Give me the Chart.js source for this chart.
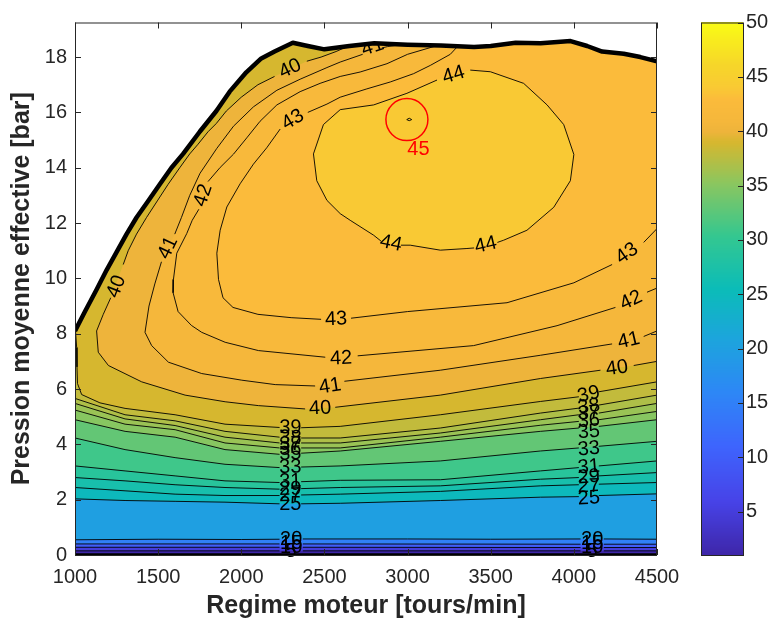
<!DOCTYPE html>
<html>
<head>
<meta charset="utf-8">
<script src="https://cdn.jsdelivr.net/npm/chart.js@4.4.1/dist/chart.umd.min.js"></script>
<style>
  html, body { margin: 0; padding: 0; background: #fff; }
  #wrap { width: 771px; height: 621px; position: relative; }
</style>
</head>
<body>
<div id="wrap"><canvas id="carte"></canvas></div>
<script>
// Carte de rendement moteur : régime [tours/min] x PME [bar]
const N = null; // coupure de ligne (emplacement d'une étiquette)

const rpmTicks = [1000, 1500, 2000, 2500, 3000, 3500, 4000, 4500];
const barTicks = [0, 2, 4, 6, 8, 10, 12, 14, 16, 18];
const cbTicks = [5, 10, 15, 20, 25, 30, 35, 40, 45, 50];
const cbRange = [1, 50];
const barMax = 19.25;

// courbe de pleine charge
const pleineCharge = [[1000, 8.1], [1060, 8.8], [1130, 9.6], [1190, 10.3], [1250, 10.95], [1310, 11.6],
  [1370, 12.2], [1440, 12.8], [1510, 13.4], [1580, 14.0], [1650, 14.5], [1750, 15.3], [1850, 16.05],
  [1930, 16.75], [2030, 17.45], [2120, 17.95], [2200, 18.2], [2310, 18.52], [2400, 18.4], [2500, 18.28],
  [2650, 18.4], [2800, 18.5], [3000, 18.45], [3200, 18.42], [3400, 18.36], [3500, 18.4], [3650, 18.52],
  [3800, 18.5], [3980, 18.58], [4080, 18.4], [4170, 18.2], [4300, 18.12], [4400, 18.0], [4500, 17.85]];

const pmeNulle = [[1000, 0], [4500, 0]];

// isolignes de rendement [%]
const iso5 = [[1000, 0.15], [2230, 0.15], N, [2370, 0.15], [4040, 0.15], N, [4180, 0.15], [4500, 0.15]];
const iso10 = [[1000, 0.28], [2230, 0.28], N, [2370, 0.28], [4040, 0.27], N, [4180, 0.27], [4500, 0.27]];
const iso15 = [[1000, 0.40], [2230, 0.40], N, [2370, 0.40], [4040, 0.39], N, [4180, 0.39], [4500, 0.39]];
const iso20 = [[1000, 0.55], [1500, 0.57], [2000, 0.56], [2230, 0.57], N, [2370, 0.58], [3000, 0.58],
  [3500, 0.57], [4040, 0.58], N, [4180, 0.58], [4500, 0.57]];
const iso25 = [[1000, 2.03], [1301, 1.97], [1602, 1.94], [1902, 1.91], [2230, 1.85], N, [2360, 1.85],
  [2595, 1.87], [3197, 1.97], [3799, 2.09], [4030, 2.11], N, [4150, 2.15], [4500, 2.21]];
const iso27 = [[1000, 2.44], [1301, 2.32], [1602, 2.2], [1902, 2.15], [2230, 2.15], N, [2360, 2.17],
  [2595, 2.2], [3197, 2.3], [3799, 2.5], [4030, 2.54], N, [4150, 2.56], [4500, 2.62]];
const iso29 = [[1000, 2.80], [1301, 2.68], [1602, 2.54], [1902, 2.44], [2230, 2.38], N, [2360, 2.4],
  [2595, 2.44], [3197, 2.5], [3799, 2.74], [4030, 2.8], N, [4150, 2.86], [4500, 2.98]];
const iso31 = [[1000, 3.22], [1301, 3.04], [1602, 2.86], [1902, 2.68], [2230, 2.62], N, [2360, 2.65],
  [2595, 2.70], [3197, 2.72], [3799, 3.04], [4030, 3.16], N, [4150, 3.22], [4500, 3.40]];
const iso33 = [[1000, 4.23], [1301, 3.81], [1602, 3.52], [1902, 3.28], [2230, 3.16], N, [2360, 3.18],
  [2595, 3.22], [3197, 3.40], [3799, 3.76], [4030, 3.87], N, [4150, 3.93], [4500, 4.11]];
const iso35 = [[1000, 4.89], [1301, 4.47], [1602, 4.26], [1902, 3.81], [2230, 3.64], N, [2360, 3.68],
  [2595, 3.76], [3197, 4.11], [3799, 4.47], [4030, 4.59], N, [4150, 4.65], [4500, 4.89]];
const iso36 = [[1000, 5.24], [1301, 4.73], [1602, 4.53], [1902, 4.05], [2230, 3.87], N, [2360, 3.87],
  [2595, 3.87], [3197, 4.26], [3799, 4.69], [4030, 4.83], N, [4150, 4.89], [4500, 5.19]];
const iso37 = [[1000, 5.48], [1301, 4.92], [1602, 4.68], [1902, 4.26], [2230, 4.05], N, [2360, 4.05],
  [2595, 4.05], [3197, 4.41], [3799, 4.89], [4030, 5.07], N, [4150, 5.13], [4500, 5.48]];
const iso38 = [[1000, 5.66], [1301, 5.07], [1602, 4.85], [1902, 4.47], [2230, 4.26], N, [2360, 4.23],
  [2595, 4.23], [3197, 4.59], [3799, 5.13], [4030, 5.31], N, [4150, 5.42], [4500, 5.78]];
const iso39 = [[1003, 8.12], [1010, 7.5], [1012, 6.8], [1015, 6.2], [1040, 5.8], [1150, 5.5], [1301, 5.30],
  [1602, 5.07], [1902, 4.73], [2230, 4.61], N, [2360, 4.6], [2595, 4.65], [3197, 5.07], [3799, 5.55],
  [4030, 5.72], N, [4150, 5.9], [4500, 6.26]];
const iso40 = [[2640, 18.39], [2570, 18.2], [2480, 18.0], [2394, 17.85], N, [2200, 17.3], [2100, 17.0],
  [2000, 16.55], [1910, 16.05], [1850, 15.6], [1800, 15.3], [1740, 14.85], [1690, 14.5], [1630, 14.0],
  [1560, 13.4], [1495, 12.8], [1430, 12.2], [1370, 11.6], [1320, 11.0], [1290, 10.5], N, [1215, 9.3],
  [1170, 8.7], [1130, 8.1], [1140, 7.33], [1201, 6.85], [1401, 6.26], [1662, 5.78], [1903, 5.54],
  [2103, 5.4], [2384, 5.28], N, [2565, 5.34], [3197, 5.78], [3799, 6.38], [4160, 6.68], N, [4360, 6.85],
  [4500, 7.0]];
const iso41 = [[2960, 18.45], [2880, 18.38], [2845, 18.33], N, [2730, 18.1], [2595, 17.82],
  [2515, 17.62], [2354, 17.2], [2214, 16.8], [2073, 16.2], [1953, 15.5], [1853, 14.7], [1752, 13.8],
  [1690, 13.0], [1640, 12.2], [1600, 11.6], N, [1520, 10.6], [1480, 9.8], [1445, 9.0], [1421, 8.05],
  [1461, 7.57], [1562, 6.97], [1762, 6.56], [2003, 6.32], [2204, 6.16], [2444, 6.11], N, [2620, 6.28],
  [3197, 6.68], [3799, 7.22], [4230, 7.63], N, [4420, 7.9], [4500, 8.1]];
const iso42 = [[3180, 18.42], [3000, 18.1], [2876, 17.76], [2715, 17.46], [2595, 17.3], [2474, 17.05],
  [2354, 16.75], [2214, 16.27], [2113, 15.68], [2033, 15.08], [1953, 14.49], [1873, 14.01], [1800, 13.5], N,
  [1745, 12.5], [1705, 12.1], [1672, 11.62], [1612, 10.91], [1592, 9.96], [1590, 9.48], [1620, 8.8],
  [1700, 8.3], [1762, 8.05], [1903, 7.69], [2103, 7.39], [2505, 7.15], N, [2700, 7.2], [3397, 7.57],
  [3899, 8.29], [4250, 8.95], N, [4440, 9.5], [4500, 9.65]];
const iso43 = [[3300, 18.38], [3257, 18.1], [3137, 17.7], [3036, 17.4], [2896, 17.1], [2755, 16.85],
  [2595, 16.55], [2515, 16.3], [2400, 16.0], N, [2234, 15.4], [2153, 14.72], [2073, 14.13], [1993, 13.42],
  [1913, 12.58], [1873, 11.74], [1853, 10.91], [1863, 9.96], [1890, 9.3], [1950, 8.95], [2100, 8.7],
  [2300, 8.58], [2480, 8.52], N, [2660, 8.56], [3000, 8.8], [3598, 9.12], [4000, 9.84], [4230, 10.5], N,
  [4420, 11.3], [4500, 11.8]];
const iso44 = [[2434, 14.5], [2454, 13.53], [2515, 12.82], [2595, 12.34], [2655, 12.1], [2796, 11.56],
  [2840, 11.35], N, [2960, 11.2], [3016, 11.2], [3197, 11.02], [3357, 11.08], [3400, 11.1], N,
  [3540, 11.3], [3578, 11.38], [3718, 11.74], [3879, 12.57], [3979, 13.53], [4000, 14.48], [3939, 15.56],
  [3839, 16.27], [3698, 17.05], [3498, 17.47], [3377, 17.53], N, [3177, 17.17], [2996, 16.69],
  [2796, 16.27], [2595, 16.1], [2494, 15.56], [2434, 14.5]];
const iso45 = [[2995, 15.74], [3010, 15.79], [3025, 15.74], [3010, 15.70], [2995, 15.74]];

const isolignes = [[5, iso5], [10, iso10], [15, iso15], [20, iso20], [25, iso25], [27, iso27],
  [29, iso29], [31, iso31], [33, iso33], [35, iso35], [36, iso36], [37, iso37], [38, iso38],
  [39, iso39], [40, iso40], [41, iso41], [42, iso42], [43, iso43], [44, iso44], [45, iso45]];

// étiquettes des isolignes : [niveau, régime, pme]
const etiquettes = [
  [40, 2294, 17.58], [40, 1250, 9.7], [40, 2474, 5.3], [40, 4260, 6.75],
  [41, 2790, 18.36], [41, 1560, 11.1], [41, 2534, 6.1], [41, 4330, 7.75],
  [42, 1772, 13.0], [42, 2600, 7.1], [42, 4345, 9.2],
  [43, 2310, 15.73], [43, 2570, 8.52], [43, 4320, 10.9],
  [44, 3277, 17.35], [44, 2900, 11.27], [44, 3470, 11.2],
  [39, 2295, 4.6], [38, 2295, 4.23], [37, 2295, 4.0], [36, 2295, 3.82], [35, 2295, 3.65],
  [33, 2295, 3.17], [31, 2295, 2.66], [29, 2295, 2.38], [27, 2295, 2.15], [25, 2295, 1.83],
  [39, 4090, 5.8], [38, 4090, 5.36], [37, 4090, 5.12], [36, 4090, 4.85], [35, 4090, 4.45],
  [33, 4090, 3.83], [31, 4090, 3.18], [29, 4090, 2.82], [27, 4090, 2.48], [25, 4090, 2.05],
  [20, 2300, 0.57], [15, 2300, 0.4], [10, 2300, 0.28], [5, 2300, 0.12],
  [20, 4110, 0.57], [15, 4110, 0.4], [10, 4110, 0.28], [5, 4110, 0.12]
];

const pointMax = [2996, 15.74];
const texteMax = ['45', 3065, 14.65];

const police = "'Liberation Sans', Arial, Helvetica, sans-serif";
// palette (valeur -> couleur), proche de parula
const palette = [[1, '#3e26a8'], [6, '#4743e8'], [11, '#3e64fd'], [16, '#2d87f6'], [21, '#1ca5dc'],
  [25.5, '#0bbcb8'], [30.4, '#34c790'], [35.3, '#8cc65e'], [39, '#d6b72f'], [40, '#eeb43b'],
  [41, '#f5b73b'], [42, '#f8b93b'], [43, '#fbbb3b'], [44, '#f9c934'], [46, '#f6d52a'], [50, '#f9fb15']];

function couleur(v) {
  let k = 0;
  while (k < palette.length - 2 && v > palette[k + 1][0]) k++;
  const [v0, c0] = palette[k], [v1, c1] = palette[k + 1];
  const f = Math.max(0, Math.min(1, (v - v0) / (v1 - v0)));
  const a = parseInt(c0.slice(1), 16), b = parseInt(c1.slice(1), 16);
  const c = [16, 8, 0].map(s => Math.round(((a >> s) & 255) * (1 - f) + ((b >> s) & 255) * f));
  return `rgb(${c[0]},${c[1]},${c[2]})`;
}

// angle local d'une isoligne à l'endroit d'une étiquette
function angleEtiquette(x, y, niv, lx, ly) {
  const pts = isolignes.find(l => l[0] === niv)[1];
  let best = 0, dmin = Infinity;
  pts.forEach((q, i) => {
    if (q !== null || !pts[i - 1] || !pts[i + 1]) return;
    const ax = x.getPixelForValue(pts[i - 1][0]), ay = y.getPixelForValue(pts[i - 1][1]);
    const bx = x.getPixelForValue(pts[i + 1][0]), by = y.getPixelForValue(pts[i + 1][1]);
    const dd = Math.hypot((ax + bx) / 2 - lx, (ay + by) / 2 - ly);
    if (dd < dmin) { dmin = dd; best = Math.atan2(by - ay, bx - ax); }
  });
  if (best > Math.PI / 2) best -= Math.PI;
  if (best < -Math.PI / 2) best += Math.PI;
  return best;
}

// remplissage des bandes entre isolignes (façon contourf) + étiquettes
const remplissage = {
  id: 'remplissage',
  beforeDatasetsDraw(chart) {
    const { ctx, chartArea: a, scales: { x, y } } = chart;
    const px = q => [x.getPixelForValue(q[0]), y.getPixelForValue(q[1])];
    ctx.save();
    ctx.beginPath();
    ctx.rect(a.left, a.top, a.right - a.left, a.bottom - a.top + 8);
    ctx.clip();
    ctx.beginPath();
    pleineCharge.forEach((q, i) => { const p = px(q); i ? ctx.lineTo(p[0], p[1]) : ctx.moveTo(p[0], p[1]); });
    ctx.lineTo(a.right + 5, a.bottom + 8);
    ctx.lineTo(a.left - 5, a.bottom + 8);
    ctx.closePath();
    ctx.clip();
    ctx.fillStyle = couleur(cbRange[0]);
    ctx.fillRect(a.left, a.top, a.right - a.left, a.bottom - a.top);
    isolignes.forEach(([niv, pts]) => {
      const p = pts.filter(q => q);
      const d = p[0], f = p[p.length - 1];
      ctx.beginPath();
      p.forEach((q, i) => { const c = px(q); i ? ctx.lineTo(c[0], c[1]) : ctx.moveTo(c[0], c[1]); });
      if (d[0] !== f[0] || d[1] !== f[1]) {
        ctx.lineTo(x.getPixelForValue(f[0]), a.top - 20);
        ctx.lineTo(x.getPixelForValue(d[0]), a.top - 20);
      }
      ctx.closePath();
      ctx.fillStyle = couleur(niv);
      ctx.fill();
    });
    ctx.font = `20px ${police}`;
    ctx.fillStyle = '#000';
    ctx.textAlign = 'center';
    ctx.textBaseline = 'middle';
    etiquettes.forEach(([niv, r, p]) => {
      const lx = x.getPixelForValue(r), ly = y.getPixelForValue(p);
      ctx.save();
      ctx.translate(lx, ly);
      ctx.rotate(angleEtiquette(x, y, niv, lx, ly));
      ctx.fillText(String(niv), 0, 0);
      ctx.restore();
    });
    ctx.restore();
  }
};

// cadre, graduations intérieures, barre de couleur
const habillage = {
  id: 'habillage',
  afterDatasetsDraw(chart) {
    const { ctx, chartArea: a, scales: { x, y } } = chart;
    ctx.save();
    ctx.font = `20px ${police}`;
    ctx.textAlign = 'center';
    ctx.textBaseline = 'middle';
    ctx.fillStyle = '#ff0000';
    ctx.fillText(texteMax[0], x.getPixelForValue(texteMax[1]), y.getPixelForValue(texteMax[2]));

    ctx.strokeStyle = '#262626';
    ctx.lineWidth = 1;
    ctx.strokeRect(a.left + 0.5, a.top + 0.5, a.right - a.left - 1, a.bottom - a.top);
    ctx.beginPath();
    rpmTicks.forEach(v => {
      const p = Math.round(x.getPixelForValue(v)) + 0.5;
      ctx.moveTo(p, a.bottom); ctx.lineTo(p, a.bottom - 6);
      ctx.moveTo(p, a.top); ctx.lineTo(p, a.top + 6);
    });
    barTicks.forEach(v => {
      const p = Math.round(y.getPixelForValue(v)) + 0.5;
      ctx.moveTo(a.left, p); ctx.lineTo(a.left + 6, p);
      ctx.moveTo(a.right, p); ctx.lineTo(a.right - 6, p);
    });
    ctx.stroke();
    ctx.restore();
  },
  afterDraw(chart) {
    const { ctx, scales: { cb } } = chart;
    const x0 = cb.left + 44, x1 = cb.left + 86;
    ctx.save();
    for (let v = cbRange[0]; v < cbRange[1]; v += 0.1) {
      const yt = cb.getPixelForValue(v + 0.1), yb = cb.getPixelForValue(v);
      ctx.fillStyle = couleur(v + 0.05);
      ctx.fillRect(x0, Math.floor(yt), x1 - x0, Math.ceil(yb) - Math.floor(yt));
    }
    ctx.strokeStyle = '#262626';
    ctx.lineWidth = 1;
    ctx.strokeRect(x0 + 0.5, cb.top + 0.5, x1 - x0, cb.bottom - cb.top);
    ctx.beginPath();
    cbTicks.forEach(v => {
      const p = Math.round(cb.getPixelForValue(v)) + 0.5;
      ctx.moveTo(x1, p); ctx.lineTo(x1 - 5, p);
    });
    ctx.stroke();
    ctx.restore();
  }
};

const versPoints = pts => pts.map(q => q ? { x: q[0], y: q[1] } : { x: null, y: null });

const datasets = isolignes.map(([niv, pts]) => ({
  label: String(niv),
  data: versPoints(pts),
  showLine: true,
  borderColor: '#000',
  borderWidth: 0.9,
  pointRadius: 0,
  spanGaps: false
}));
datasets.push({
  label: 'pleine charge', data: versPoints(pleineCharge), showLine: true,
  borderColor: '#000', borderWidth: 4.5, borderJoinStyle: 'round', pointRadius: 0
});
datasets.push({
  label: 'pme nulle', data: versPoints(pmeNulle), showLine: true,
  borderColor: '#000', borderWidth: 3.5, borderCapStyle: 'round', pointRadius: 0
});
datasets.push({
  label: 'max', data: versPoints([pointMax]), showLine: false,
  pointRadius: 21, pointBorderColor: '#ff0000', pointBorderWidth: 1.5,
  pointBackgroundColor: 'rgba(0,0,0,0)'
});

const tickFont = { family: police, size: 20 };
const titleFont = { family: police, size: 25, weight: 'bold' };
const sansMarge = s => { s.paddingTop = 0; s.paddingBottom = 0; };

new Chart(document.getElementById('carte').getContext('2d'), {
  type: 'scatter',
  data: { datasets },
  options: {
    responsive: true,
    maintainAspectRatio: false,
    animation: false,
    layout: { padding: { top: 17, left: 0, right: 0, bottom: 0 } },
    plugins: { legend: { display: false }, tooltip: { enabled: false } },
    scales: {
      x: {
        type: 'linear', position: 'bottom', min: rpmTicks[0], max: rpmTicks[rpmTicks.length - 1],
        afterBuildTicks: s => { s.ticks = rpmTicks.map(v => ({ value: v })); },
        afterFit: s => { s.height = 66; s.paddingLeft = 0; s.paddingRight = 0; },
        grid: { display: false, drawTicks: false }, border: { display: false },
        ticks: { font: tickFont, color: '#262626', padding: 10, maxRotation: 0, autoSkip: false, callback: v => String(v) },
        title: { display: true, text: 'Regime moteur [tours/min]', font: titleFont, color: '#262626', padding: { top: 0, bottom: 0 } }
      },
      y: {
        type: 'linear', position: 'left', min: 0, max: barMax,
        afterBuildTicks: s => { s.ticks = barTicks.map(v => ({ value: v })); },
        afterFit: s => { s.width = 75; sansMarge(s); },
        grid: { display: false, drawTicks: false }, border: { display: false },
        ticks: { font: tickFont, color: '#262626', padding: 8, autoSkip: false },
        title: { display: true, text: 'Pression moyenne effective [bar]', font: titleFont, color: '#262626', padding: { top: 7, bottom: 0 } }
      },
      cb: {
        type: 'linear', position: 'right', min: cbRange[0], max: cbRange[1],
        afterBuildTicks: s => { s.ticks = cbTicks.map(v => ({ value: v })); },
        afterFit: s => { s.width = 114; sansMarge(s); },
        grid: { display: false, drawTicks: false }, border: { display: false },
        ticks: { font: tickFont, color: '#262626', padding: 89, autoSkip: false }
      }
    }
  },
  plugins: [remplissage, habillage]
});
</script>
</body>
</html>
